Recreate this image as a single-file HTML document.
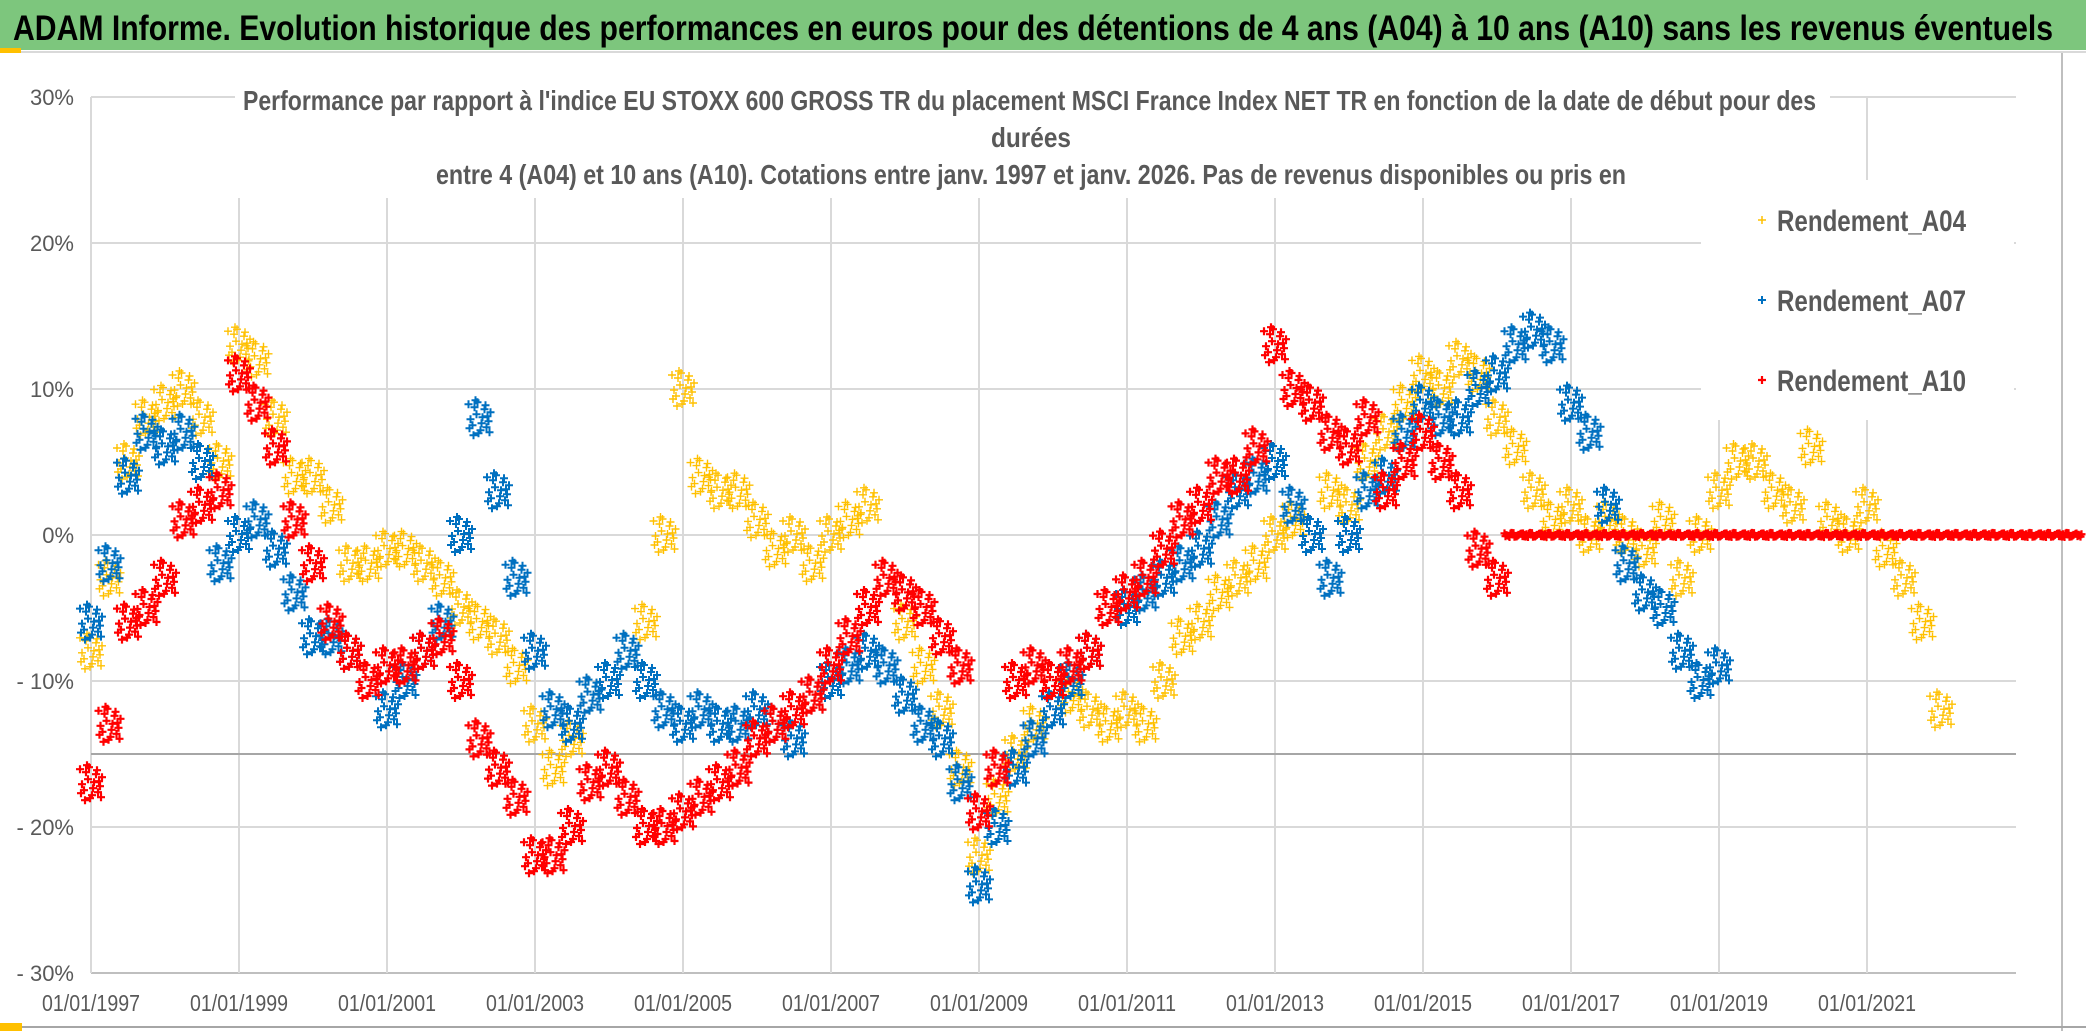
<!DOCTYPE html>
<html><head><meta charset="utf-8"><style>
html,body{margin:0;padding:0;background:#fff;}
svg{display:block;}
text{font-family:"Liberation Sans",sans-serif;}
</style></head><body>
<svg id="chart" width="2086" height="1031" viewBox="0 0 2086 1031" xmlns="http://www.w3.org/2000/svg">
<rect x="0" y="0" width="2086" height="1031" fill="#ffffff"/>
<rect x="0" y="0" width="2086" height="50" fill="#7dc67d"/>
<text x="13" y="40" font-size="35" font-weight="bold" fill="#000" textLength="2040" lengthAdjust="spacingAndGlyphs">ADAM Informe. Evolution historique des performances en euros pour des détentions de 4 ans (A04) à 10 ans (A10) sans les revenus éventuels</text>
<line x1="0" y1="52" x2="2086" y2="52" stroke="#d9d9d9" stroke-width="2"/>
<rect x="0" y="48" width="21" height="5" fill="#ffc000"/>
<line x1="2062" y1="53" x2="2062" y2="1031" stroke="#bfbfbf" stroke-width="2"/>
<line x1="0" y1="1027" x2="2086" y2="1027" stroke="#a6a6a6" stroke-width="2"/>
<rect x="0" y="1023" width="22" height="8" fill="#ffc000"/>
<g id="grid"></g>
<g id="yaxis"></g>
<g id="xaxis"></g>
<g id="marks"></g>
<g>
<rect x="235" y="78" width="1595" height="120" fill="#fff"/>
<text x="243" y="110" font-size="28" font-weight="bold" fill="#595959" textLength="1573" lengthAdjust="spacingAndGlyphs">Performance  par rapport à l'indice EU STOXX 600 GROSS TR  du placement MSCI France Index NET TR en fonction de la date de début pour des</text>
<text x="991" y="147" font-size="28" font-weight="bold" fill="#595959" textLength="80" lengthAdjust="spacingAndGlyphs">durées</text>
<text x="436" y="184" font-size="28" font-weight="bold" fill="#595959" textLength="1190" lengthAdjust="spacingAndGlyphs">entre 4 (A04) et 10 ans (A10). Cotations entre janv. 1997 et janv. 2026. Pas de revenus disponibles ou pris en</text>
</g>
<g>
<rect x="1701" y="180" width="313" height="240" fill="#fff"/>
<g>
<path d="M1758 220h8M1762 216v8" stroke="#ffc000" stroke-width="1.5"/>
<text x="1777" y="231" font-size="30" font-weight="bold" fill="#595959" textLength="189" lengthAdjust="spacingAndGlyphs">Rendement_A04</text></g>
<g>
<path d="M1758 300h8M1762 296v8" stroke="#0070c0" stroke-width="2"/>
<text x="1777" y="311" font-size="30" font-weight="bold" fill="#595959" textLength="189" lengthAdjust="spacingAndGlyphs">Rendement_A07</text></g>
<g>
<path d="M1758 380h8M1762 376v8" stroke="#ff0000" stroke-width="2.2"/>
<text x="1777" y="391" font-size="30" font-weight="bold" fill="#595959" textLength="189" lengthAdjust="spacingAndGlyphs">Rendement_A10</text></g>
</g>
</svg>
<script>
const yTicks = [30, 20, 10, 0, -10, -20, -30];
const yTickLabels = ["30%", "20%", "10%", "0%", "- 10%", "- 20%", "- 30%"];
const xTicks = [1997, 1999, 2001, 2003, 2005, 2007, 2009, 2011, 2013, 2015, 2017, 2019, 2021];
const xTickLabels = ["01/01/1997","01/01/1999","01/01/2001","01/01/2003","01/01/2005","01/01/2007","01/01/2009","01/01/2011","01/01/2013","01/01/2015","01/01/2017","01/01/2019","01/01/2021"];
const refLevel = -15;
const seriesStartYear = 1997;
const seriesStepYears = 0.25;
const a10FlatFromYear = 2016.25;
const a04Values = [-8,-3,5,8, 9,10,8,5, 13,12,8,4, 4,2,-2,-2, -1,-1,-2,-3, -5,-6,-7,-9, -13,-16,-14,-11, -10,-8,-6,0, 10,4,3,3, 1,-1,0,-2, 0,1,2,-3, -6,-9,-12,-16, -22,-18,-15,-13, -12,-11,-12,-13, -12,-13,-10,-7, -6,-4,-3,-2, 0,1,0,3, 2,5,7,9, 11,10,12,11, 8,6,3,1, 2,0,1,0, -1,1,-3,0, 3,5,5,3, 2,6,1,0, 2,-1,-3,-6, -12];
const a07Values = [-6,-2,4,7, 6,7,5,-2, 0,1,-1,-4, -7,-7,-8,-10, -12,-10,-8,-6, 0,8,3,-3, -8,-12,-13,-11, -10,-8,-10,-12, -13,-12,-13,-13, -12,-13,-14,-11, -10,-9,-8,-9, -11,-13,-14,-17, -24,-20,-16,-14, -12,-10,-8,-5, -5,-4,-3,-2, -1,1,3,4, 5,2,0,-3, 0,3,4,7, 9,8,8,10, 11,13,14,13, 9,7,2,-2, -4,-5,-8,-10, -9];
const a10Values = [-17,-13,-6,-5, -3,1,2,3, 11,9,6,1, -2,-6,-8,-10, -9,-9,-8,-7, -10,-14,-16,-18, -22,-22,-20,-17, -16,-18,-20,-20, -19,-18,-17,-16, -14,-13,-12,-11, -9,-7,-5,-3, -4,-5,-7,-9, -19,-16,-10,-9, -10,-9,-8,-5, -4,-3,-1,1, 2,4,4,6, 13,10,9,7, 6,8,3,5, 7,5,3,-1, -3, 0,0,0, 0,0,0,0, 0,0,0,0, 0,0,0,0, 0,0,0,0, 0,0,0,0, 0,0,0,0, 0,0,0,0];

const NS = "http://www.w3.org/2000/svg";
const X0 = 91, PX_PER_YEAR = 74, Y30 = 97, PX_PER_PCT = 14.6, XR = 2016;
function xScale(yr){ return X0 + (yr - 1997) * PX_PER_YEAR; }
function yScale(v){ return Y30 + (30 - v) * PX_PER_PCT; }
function mk(tag, attrs, parent){ const e = document.createElementNS(NS, tag); for (const k in attrs) e.setAttribute(k, attrs[k]); parent.appendChild(e); return e; }

const grid = document.getElementById('grid');
yTicks.forEach(function(v){
  const l = mk('line', {x1:X0, x2:XR, y1:yScale(v), y2:yScale(v), stroke: v === -30 ? '#bfbfbf' : '#d9d9d9', 'stroke-width':2}, grid);
  
  
});
xTicks.forEach(function(t){
  if (t === 1997) return;
  const l = mk('line', {x1:xScale(t), x2:xScale(t), y1:yScale(30), y2:yScale(-30), stroke:'#d9d9d9', 'stroke-width':2}, grid);
  
  
});
const axisL = mk('line', {x1:X0, x2:X0, y1:yScale(30), y2:yScale(-30), stroke:'#d9d9d9', 'stroke-width':2}, grid);


const ref = mk('line', {x1:X0, x2:XR, y1:yScale(refLevel), y2:yScale(refLevel), stroke:'#a6a6a6', 'stroke-width':2}, grid);



const yaxis = document.getElementById('yaxis');
yTicks.forEach(function(v, i){
  const t = mk('text', {x:74, y:yScale(v)+8, 'font-size':22, fill:'#595959', 'text-anchor':'end'}, yaxis);
  t.textContent = yTickLabels[i];
  
  
});
const xaxis = document.getElementById('xaxis');
xTicks.forEach(function(tk, i){
  const t = mk('text', {x:xScale(tk), y:1011, 'font-size':23, fill:'#595959', 'text-anchor':'middle', textLength:98, lengthAdjust:'spacingAndGlyphs'}, xaxis);
  t.textContent = xTickLabels[i];
  
  
});

const cluster = [[-11,-14],[-7,7],[-3,-4],[1,12],[5,-9],[9,3],[-9,1],[-5,-11],[-1,15],[3,-1],[7,9],[11,-6],[-10,10],[-2,-16],[6,-13],[10,14],[-6,17],[2,5],[8,-2],[-4,-18]];
const marks = document.getElementById('marks');
function drawSeries(vals, color, sw, name, flatFrom){
  const g = mk('g', {}, marks);
  
  
  vals.forEach(function(v, i){
    const yr = seriesStartYear + i * seriesStepYears;
    const cx = xScale(yr), cy = yScale(v);
    const f = (flatFrom !== undefined && yr >= flatFrom) ? 0.12 : 1;
    let d = '';
    cluster.forEach(function(o){
      const px = cx + o[0], py = cy + o[1] * f;
      d += 'M' + (px-4) + ' ' + py + 'h8M' + px + ' ' + (py-4) + 'v8';
    });
    const p = mk('path', {d:d, stroke:color, 'stroke-width':sw, fill:'none'}, g);
    
    
  });
}
drawSeries(a04Values, '#ffc000', 1.4, 'a04');
drawSeries(a07Values, '#0070c0', 2, 'a07');
drawSeries(a10Values, '#ff0000', 2.2, 'a10', a10FlatFromYear);
</script>
</body></html>
